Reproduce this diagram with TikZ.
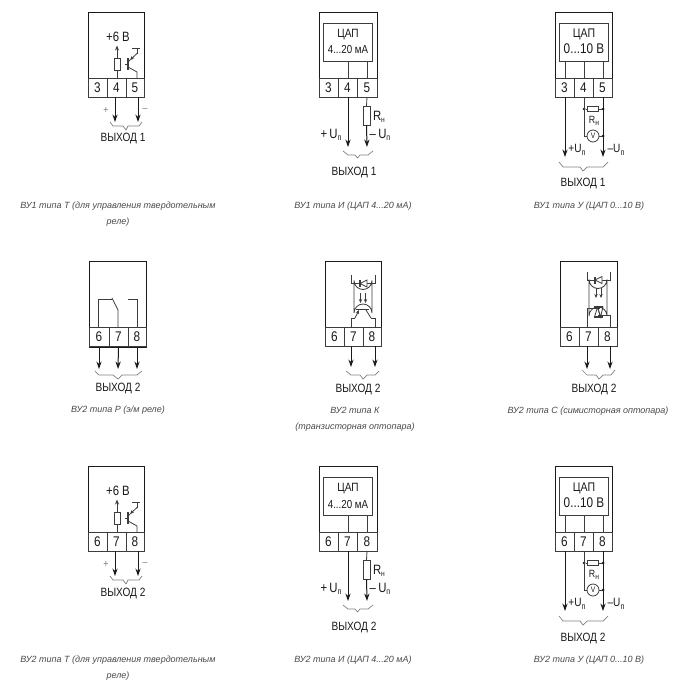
\documentclass[tikz,border=0pt]{standalone}
\usepackage{fontspec}
\setmainfont{Liberation Sans}
\newfontfamily\diagf[FakeStretch=0.84]{Liberation Sans}
\usetikzlibrary{arrows.meta}
\definecolor{ink}{HTML}{1A1A1A}
\definecolor{soft}{HTML}{3C3C3C}
\definecolor{capt}{HTML}{4A4A4A}
\definecolor{brc}{HTML}{808080}
\newcommand{\lab}{\diagf\fontsize{12}{12}\selectfont}
\newcommand{\labs}{\diagf\fontsize{10.5}{11}\selectfont}
\newcommand{\Un}{U\raisebox{-2.5pt}{\fontsize{8.5}{8}\selectfont п}}
\newcommand{\Rn}{R\raisebox{-2pt}{\fontsize{8}{8}\selectfont н}}
\tikzset{
 housing/.style={draw=ink,line width=1pt,inner sep=0pt,outer sep=0pt},
 innerbox/.style={draw=soft,line width=.9pt,inner sep=0pt,outer sep=0pt,align=center,font=\lab,text=ink},
 cell/.style={draw=soft,line width=.85pt,inner sep=0pt,outer sep=0pt,minimum height=19pt,font=\diagf\fontsize{14}{14}\selectfont,text=ink},
 wire/.style={draw=soft,line width=.8pt},
 outw/.style={draw=ink,line width=1pt,-{Stealth[length=7.5pt,width=5.2pt]}},
 res/.style={draw=soft,line width=.8pt,fill=white,inner sep=0pt,outer sep=0pt},
 txt/.style={inner sep=0pt,outer sep=0pt,font=\lab,text=ink},
 stxt/.style={inner sep=0pt,outer sep=0pt,font=\labs,text=ink},
 captxt/.style={inner sep=0pt,outer sep=0pt,text=capt,font=\fontsize{9}{16}\selectfont\itshape,align=center},
 brace/.style={draw=brc,line width=.7pt,line join=round},
 dot/.style={circle,fill=ink,inner sep=0pt,minimum size=3pt,outer sep=0pt},
 smalltip/.style={-{Stealth[length=4pt,width=3.4pt]}},
}
% #1 prefix, #2-#4 terminals, #5 output, #6 vertical shift
\newcommand{\typeT}[6]{%
 \begin{scope}[shift={(0,#6)}]
 \node[housing,minimum width=56pt,minimum height=85pt] (#1h) at (116,54.5) {};
 \node[cell,minimum width=19pt] (#1a) at (97.5,87.5) {#2};
 \node[cell,minimum width=19pt] (#1b) at (116.5,87.5) {#3};
 \node[cell,minimum width=18pt] (#1c) at (135,87.5) {#4};
 \node[txt,font=\diagf\fontsize{13.5}{13}\selectfont] (#1v) at (118,37) {+6 В};
 \node[res,minimum width=6pt,minimum height=12pt] (#1r) at (117,64) {};
 \coordinate (#1rb) at (117,78);
 \coordinate (#1up) at (117,45.5);
 \draw[wire] (#1rb) -- (#1r.south);
 \draw[wire,-{Stealth[length=5pt,width=4pt]}] (#1r.north) -- (#1up);
 \coordinate (#1q0) at (132,48); \coordinate (#1q1) at (140,48);
 \coordinate (#1qc) at (137,48); \coordinate (#1qd) at (137,53.5);
 \coordinate (#1qi) at (130,60);
 \coordinate (#1qj) at (128,67); \coordinate (#1qe) at (137,72); \coordinate (#1qf) at (137,78);
 \draw[wire] (#1q0) -- (#1q1) (#1qc) -- (#1qd);
 \draw[wire,smalltip] (#1qd) -- (#1qi);
 \draw[wire] (#1qi) -- (128,62);
 \draw[wire,line width=1.1pt] (128,58) -- (128,70);
 \draw[wire] (125,64.5) -- (128,64.5) (#1qj) -- (#1qe) -- (#1qf);
 \coordinate (#1p) at (115,97); \coordinate (#1pe) at (115,122);
 \coordinate (#1m) at (138,97); \coordinate (#1me) at (138,122);
 \draw[outw] (#1p) -- (#1pe);
 \draw[outw] (#1m) -- (#1me);
 \node[stxt,text=brc] (#1plus) at (106,110) {+};
 \node[stxt,text=brc] (#1minus) at (145,110) {–};
 \draw[brace] (110,122) -- (113,126) -- (123,126) -- (126,130) -- (128,126) -- (139,126) -- (142,122);
 \node[txt] (#1o) at (123,139) {#5};
 \end{scope}}
\newcommand{\typeI}[6]{%
 \begin{scope}[shift={(0,#6)}]
 \node[housing,minimum width=58pt,minimum height=85pt] (#1h) at (348,54.5) {};
 \node[cell,minimum width=19pt] (#1a) at (328.5,87.5) {#2};
 \node[cell,minimum width=19pt] (#1b) at (347.5,87.5) {#3};
 \node[cell,minimum width=20pt] (#1c) at (367,87.5) {#4};
 \node[innerbox,minimum width=49pt,minimum height=38pt] (#1d) at (347.5,42) {};
 \node[txt] (#1d1) at (348,35) {ЦАП};
 \node[txt,font=\diagf\fontsize{11.6}{12}\selectfont] (#1d2) at (348,50) {4...20 мА};
 \coordinate (#1i1) at (348,61); \coordinate (#1i2) at (348,78);
 \coordinate (#1j1) at (367,61); \coordinate (#1j2) at (367,78);
 \draw[wire] (#1i1) -- (#1i2) (#1j1) -- (#1j2);
 \coordinate (#1p) at (348,97); \coordinate (#1pe) at (348,147);
 \coordinate (#1m) at (367,97); \coordinate (#1me) at (367,147);
 \node[res,minimum width=7pt,minimum height=19pt] (#1r) at (366.5,115.5) {};
 \draw[outw] (#1p) -- (#1pe);
 \draw[wire] (#1m) -- (#1r.north);
 \draw[outw] (#1r.south) -- (#1me);
 \node[txt,font=\diagf\fontsize{13.5}{13}\selectfont] (#1rl) at (379,117) {\Rn};
 \node[txt,font=\diagf\fontsize{13.5}{13}\selectfont] (#1ul) at (331,135) {+\,\Un};
 \node[txt,font=\diagf\fontsize{13.5}{13}\selectfont] (#1um) at (380,135) {–\,\Un};
 \draw[brace] (343,151) -- (348,155) -- (355,155) -- (357.5,158) -- (360,155) -- (368,155) -- (373,151);
 \node[txt] (#1o) at (354,173) {#5};
 \end{scope}}
\newcommand{\typeU}[6]{%
 \begin{scope}[shift={(0,#6)}]
 \node[housing,minimum width=57pt,minimum height=85pt] (#1h) at (583.5,54.5) {};
 \node[cell,minimum width=19pt] (#1a) at (564.5,87.5) {#2};
 \node[cell,minimum width=19pt] (#1b) at (583.5,87.5) {#3};
 \node[cell,minimum width=19pt] (#1c) at (602.5,87.5) {#4};
 \node[innerbox,minimum width=49pt,minimum height=38pt] (#1d) at (583.5,42) {};
 \node[txt,font=\diagf\fontsize{12.5}{12}\selectfont] (#1d1) at (584,34) {ЦАП};
 \node[txt,font=\diagf\fontsize{14}{14}\selectfont] (#1d2) at (584,49) {0...10 В};
 \coordinate (#1i0) at (565,61); \coordinate (#1i3) at (565,78);
 \coordinate (#1i1) at (584,61); \coordinate (#1i2) at (584,78);
 \coordinate (#1j1) at (603,61); \coordinate (#1j2) at (603,78);
 \draw[wire] (#1i0) -- (#1i3) (#1i1) -- (#1i2) (#1j1) -- (#1j2);
 \coordinate (#1p) at (565,97); \coordinate (#1pe) at (565,157);
 \coordinate (#1m) at (603,97); \coordinate (#1me) at (603,157);
 \coordinate (#1c0) at (584,97); \coordinate (#1c1) at (584,136);
 \draw[outw] (#1p) -- (#1pe);
 \draw[outw] (#1m) -- (#1me);
 \node[dot] (#1da) at (584,109) {};
 \node[dot] (#1db) at (603,109) {};
 \node[dot] (#1dc) at (603,136) {};
 \node[res,minimum width=11pt,minimum height=4.5pt] (#1r) at (593,109) {};
 \draw[wire] (#1da) -- (#1r.west) (#1r.east) -- (#1db);
 \draw[wire] (#1c0) -- (#1c1);
 \node[res,circle,minimum size=12pt,font=\diagf\fontsize{8}{8}\selectfont,text=ink] (#1V) at (593,136) {V};
 \draw[wire] (#1c1) -- (#1V.west) (#1V.east) -- (#1dc);
 \node[stxt] (#1rl) at (594,121) {\Rn};
 \node[txt] (#1ul) at (577,150) {+\Un};
 \node[txt] (#1um) at (616,150) {–\Un};
 \draw[brace] (559,162) -- (563,167) -- (580,167) -- (583,171) -- (587,167) -- (603,167) -- (608,162);
 \node[txt] (#1o) at (583,184) {#5};
 \end{scope}}
\begin{document}
\begin{tikzpicture}[x=1pt,y=-1pt]
\path[use as bounding box,fill=white] (0,0) rectangle (700,696);
\typeT{A}{3}{4}{5}{ВЫХОД 1}{0}
\typeI{B}{3}{4}{5}{ВЫХОД 1}{0}
\typeU{C}{3}{4}{5}{ВЫХОД 1}{0}
\typeT{G}{6}{7}{8}{ВЫХОД 2}{454}
\typeI{H}{6}{7}{8}{ВЫХОД 2}{454}
\typeU{J}{6}{7}{8}{ВЫХОД 2}{454}
% --- relay
\node[housing,minimum width=57pt,minimum height=86pt] (Dh) at (117.5,304) {};
\node[cell,minimum width=20pt] (Da) at (99,337) {6};
\node[cell,minimum width=19pt] (Db) at (118.5,337) {7};
\node[cell,minimum width=18pt] (Dc) at (137,337) {8};
\coordinate (Dp1) at (98.5,327); \coordinate (Dp1a) at (98.5,299); \coordinate (Dp1b) at (112,299);
\coordinate (Dm0) at (112,298); \coordinate (Dm1) at (118,310); \coordinate (Dm2) at (118,327);
\coordinate (Dq0) at (128,299); \coordinate (Dq1) at (137,299); \coordinate (Dq2) at (137,327);
\draw[wire] (Dp1) -- (Dp1a) -- (Dp1b);
\draw[wire] (Dm0) -- (Dm1) -- (Dm2);
\draw[wire] (Dq0) -- (Dq1) -- (Dq2);
\coordinate (De1) at (99,369); \coordinate (De2) at (118,369); \coordinate (De3) at (137,369);
\draw[outw] (Da.south) -- (De1);
\draw[outw] (Db.south) -- (De2);
\draw[outw] (Dc.south) -- (De3);
\draw[brace] (95,371) -- (99,375) -- (113,375) -- (118,379) -- (122,375) -- (137,375) -- (142,371);
\node[txt] (Do) at (118,388) {ВЫХОД 2};
% --- transistor optocoupler
\node[housing,minimum width=56pt,minimum height=85pt] (Eh) at (353,303.5) {};
\node[cell,minimum width=19pt] (Ea) at (334.5,336.5) {6};
\node[cell,minimum width=19pt] (Eb) at (353.5,336.5) {7};
\node[cell,minimum width=18pt] (Ec) at (372,336.5) {8};
\coordinate (Et1) at (351,275); \coordinate (Et2) at (351,283.5); \coordinate (Et3) at (375,283.5); \coordinate (Et4) at (375,275);
\draw[wire] (Et1) -- (Et2) -- (Et3) -- (Et4);
\draw[wire] (354,280.5) arc[start angle=180,end angle=0,radius=9] -- (372,313) arc[start angle=0,end angle=-180,radius=9] -- cycle;
\draw[wire,fill=white] (360,283.5) -- (367,280) -- (367,287) -- cycle;
\draw[wire,line width=1.1pt] (360,280) -- (360,287);
\draw[wire,line width=1pt,smalltip] (360.5,293) -- (360.5,303);
\draw[wire,line width=1pt,smalltip] (365.5,293) -- (365.5,303);
\coordinate (Ec0) at (351,327); \coordinate (Ec1) at (351,318); \coordinate (Ec2) at (355,318);
\coordinate (Ee0) at (375,327); \coordinate (Ee1) at (375,318); \coordinate (Ee2) at (371,318);
\draw[wire] (Ec0) -- (Ec1) -- (Ec2);
\draw[wire] (Ee0) -- (Ee1) -- (Ee2);
\draw[wire,smalltip] (Ec2) -- (359,310);
\draw[wire] (Ee2) -- (366,310);
\draw[wire,line width=1.1pt] (356,309.5) -- (369,309.5);
\coordinate (Ee3) at (351,367); \coordinate (Ee4) at (375,367);
\coordinate (Es3) at (351,346); \coordinate (Es4) at (375,346);
\draw[outw] (Es3) -- (Ee3);
\draw[outw] (Es4) -- (Ee4);
\draw[brace] (346,371) -- (351,375) -- (360,375) -- (363,379) -- (367,375) -- (375,375) -- (379,371);
\node[txt] (Eo) at (358,389) {ВЫХОД 2};
% --- triac optocoupler
\node[housing,minimum width=57pt,minimum height=85pt] (Fh) at (588.5,303.5) {};
\node[cell,minimum width=19pt] (Fa) at (569.5,336.5) {6};
\node[cell,minimum width=19pt] (Fb) at (588.5,336.5) {7};
\node[cell,minimum width=19pt] (Fc) at (607.5,336.5) {8};
\coordinate (Ft1) at (587,272); \coordinate (Ft2) at (587,280); \coordinate (Ft3) at (610,280); \coordinate (Ft4) at (610,272);
\draw[wire] (Ft1) -- (Ft2) -- (Ft3) -- (Ft4);
\draw[wire] (589,279.5) arc[start angle=180,end angle=0,radius=9] -- (607,316) arc[start angle=0,end angle=-180,radius=9] -- cycle;
\draw[wire,fill=white] (595,280) -- (602,276.5) -- (602,283.5) -- cycle;
\draw[wire,line width=1.1pt] (595,276.5) -- (595,283.5);
\draw[wire,line width=1pt,smalltip] (596,288) -- (596,298);
\draw[wire,line width=1pt,smalltip] (601,288) -- (601,298);
\draw[wire,line width=1.1pt] (594,307) -- (603,307) (594,317) -- (603,317);
\draw[wire] (594.5,317) -- (597.5,307) -- (600.5,317) -- cycle;
\draw[wire] (597.5,307) -- (600.5,317) -- (603,307) -- cycle;
\coordinate (Fw0) at (587,327); \coordinate (Fw1) at (587,308); \coordinate (Fw2) at (600,308);
\coordinate (Fx0) at (610,327); \coordinate (Fx1) at (610,315); \coordinate (Fx2) at (598,315);
\draw[wire] (Fw0) -- (Fw1) -- (Fw2);
\draw[wire] (Fx0) -- (Fx1) -- (Fx2);
\coordinate (Fs3) at (587,346); \coordinate (Fs4) at (610,346);
\coordinate (Fe3) at (587,369); \coordinate (Fe4) at (610,369);
\draw[outw] (Fs3) -- (Fe3);
\draw[outw] (Fs4) -- (Fe4);
\draw[brace] (582,370) -- (587,375) -- (596,375) -- (599,379) -- (603,375) -- (611,375) -- (615,370);
\node[txt] (Fo) at (594,389) {ВЫХОД 2};
% --- captions
\node[captxt] (c1) at (118,214) {ВУ1 типа Т (для управления твердотельным\\реле)};
\node[captxt] (c2) at (353,206) {ВУ1 типа И (ЦАП 4...20 мА)};
\node[captxt] (c3) at (589,206) {ВУ1 типа У (ЦАП 0...10 В)};
\node[captxt] (c4) at (118,410) {ВУ2 типа Р (э/м реле)};
\node[captxt] (c5) at (355,419) {ВУ2 типа К\\(транзисторная оптопара)};
\node[captxt] (c6) at (588,411) {ВУ2 типа С (симисторная оптопара)};
\node[captxt] (c7) at (118,668) {ВУ2 типа Т (для управления твердотельным\\реле)};
\node[captxt] (c8) at (353,660) {ВУ2 типа И (ЦАП 4...20 мА)};
\node[captxt] (c9) at (589,660) {ВУ2 типа У (ЦАП 0...10 В)};
\end{tikzpicture}
\end{document}
